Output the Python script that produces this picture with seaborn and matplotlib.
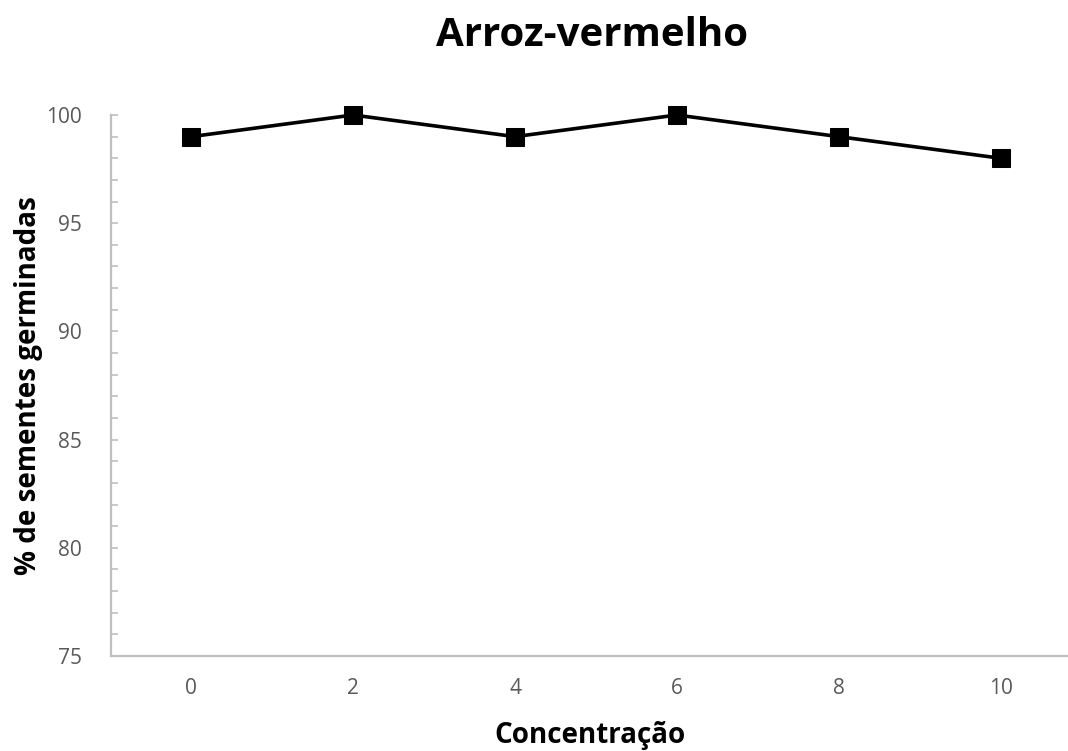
import matplotlib
matplotlib.use("Agg")
import matplotlib.pyplot as plt
from matplotlib.ticker import MultipleLocator
import seaborn as sns
import pandas as pd

concentracao = [0, 2, 4, 6, 8, 10]
germinadas = [99, 100, 99, 100, 99, 98]
yticks = [75, 80, 85, 90, 95, 100]

sns.set_style("white")
plt.rcParams['font.family'] = ['Open Sans', 'DejaVu Sans']
plt.rcParams['text.color'] = 'black'
plt.rcParams['axes.labelcolor'] = 'black'

df = pd.DataFrame({"x": concentracao, "y": germinadas})

fig = plt.figure(figsize=(10.68, 7.51), dpi=100)
ax = fig.add_axes([111/1068, 1-656/751, 1-111/1068, (656-115)/751])
sns.lineplot(data=df, x="x", y="y", ax=ax, color="black", linewidth=2.6,
             marker="s", markersize=13, markeredgecolor="black", markerfacecolor="black",
             clip_on=False)

ax.set_xlim(-0.99, 10.83)
ax.set_ylim(75, 100)
ax.set_yticks(yticks)
ax.set_xticks(concentracao)
ax.yaxis.set_minor_locator(MultipleLocator(1))

for s in ["top", "right"]:
    ax.spines[s].set_visible(False)
for s in ["left", "bottom"]:
    ax.spines[s].set_color("#BFBFBF")
    ax.spines[s].set_linewidth(1.6)

ax.tick_params(axis="y", which="both", direction="in", color="#BFBFBF", width=1.2,
               labelsize=15, labelcolor="#595959", pad=21, left=True)
ax.tick_params(axis="y", which="major", length=5)
ax.tick_params(axis="y", which="minor", length=5)
ax.tick_params(axis="x", which="both", length=0, labelsize=15, labelcolor="#595959", pad=16)

ax.set_xlabel("Concentração", fontsize=20, fontweight="bold", labelpad=16)
ax.set_ylabel("% de sementes germinadas", fontsize=20, fontweight="bold", labelpad=2)
fig.text(592/1068, 1-35/751, "Arroz-vermelho", ha="center", va="center",
         fontsize=29, fontweight="bold")

fig.savefig("out.png", dpi=100)
